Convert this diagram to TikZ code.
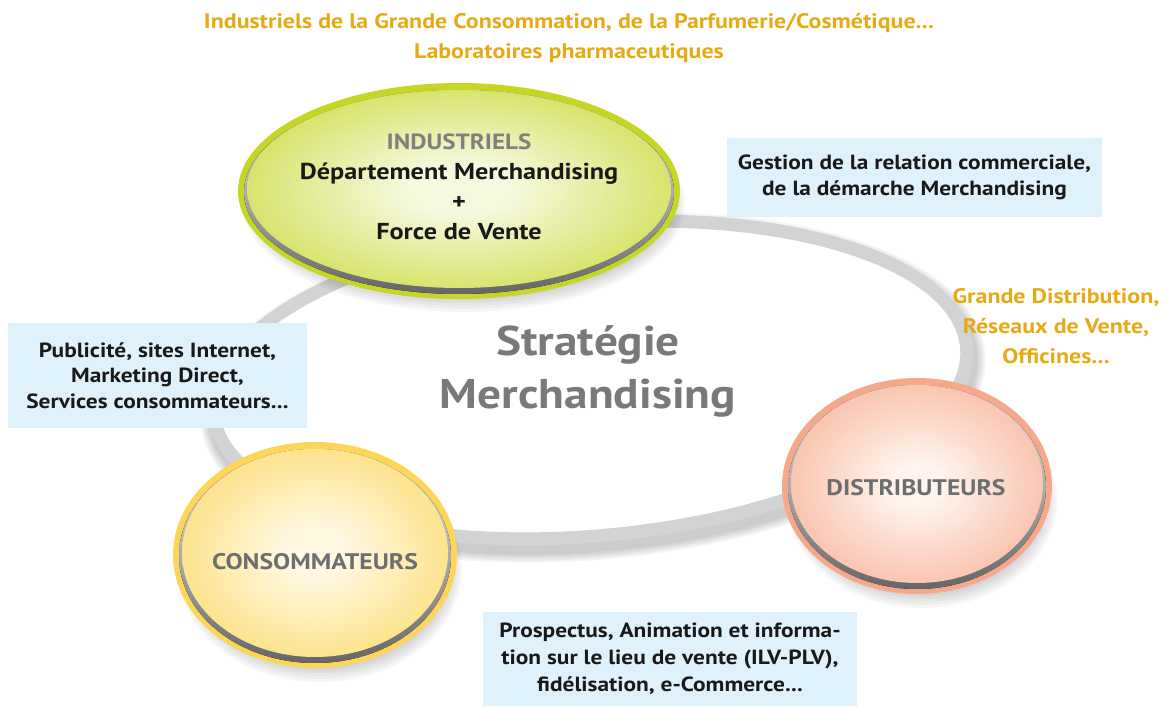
\documentclass[tikz,border=0pt]{standalone}
\usepackage{fontspec}
\setmainfont{PT Sans}[FakeStretch=1.14]
\usetikzlibrary{positioning,shapes.geometric}

\definecolor{gold}{RGB}{230,170,20}
\definecolor{skyfill}{RGB}{223,241,251}
\definecolor{ringgray}{RGB}{209,211,212}
\definecolor{txtgray}{RGB}{109,110,112}
\definecolor{lime}{RGB}{197,214,36}
\definecolor{limelight}{RGB}{246,249,222}
\definecolor{salmon}{RGB}{245,168,138}
\definecolor{salmonlight}{RGB}{255,244,238}
\definecolor{sun}{RGB}{253,214,88}
\definecolor{sunlight}{RGB}{255,249,228}

\pgfdeclareradialshading{limeshade}{\pgfpoint{0bp}{0bp}}{color(0bp)=(limelight); color(6bp)=(limelight); color(28bp)=(lime!70!limelight); color(50bp)=(lime)}
\pgfdeclareradialshading{salmonshade}{\pgfpoint{0bp}{0bp}}{color(0bp)=(salmonlight); color(5bp)=(salmonlight); color(28bp)=(salmon!70!salmonlight); color(50bp)=(salmon)}
\pgfdeclareradialshading{sunshade}{\pgfpoint{0bp}{0bp}}{color(0bp)=(sunlight); color(5bp)=(sunlight); color(28bp)=(sun!70!sunlight); color(50bp)=(sun)}

\tikzset{
  infobox/.style={fill=skyfill, align=center, font=\fontsize{20.5}{25.5}\selectfont\bfseries, text=black!90},
  goldtext/.style={align=center, text=gold, font=\fontsize{21}{30}\selectfont\bfseries},
  bubbletext/.style={align=center, text=txtgray, font=\fontsize{22.5}{29}\selectfont\bfseries},
  rim/.style={top color=gray!12, bottom color=gray!80!black},
  fuzz/.style={black, opacity=0.035}
}

\begin{document}
\begin{tikzpicture}[x=1pt, y=-1pt]
\useasboundingbox (0,0) rectangle (1171,708);

% big ring
\coordinate (ringc) at (590,380);
\begin{scope}[even odd rule, rotate around={5:(ringc)}]
  \clip (-300,-300) rectangle (1500,1000) (ringc) ellipse (372 and 150);
  \foreach \s in {4,8,...,20}
    \draw[black, opacity=0.045, line width={10+\s}] (592,388) ellipse (379 and 157);
\end{scope}
\draw[ringgray, line width=13, rotate around={5:(ringc)}] (ringc) ellipse (378 and 156);

% industriels
\foreach \s in {0,3,...,15} \fill[fuzz] (464,204) ellipse ({206+\s} and {93+\s});
\fill[lime] (459,191) ellipse (221 and 108);
\fill[rim] (459,192) ellipse (215 and 102);
\shade[shading=limeshade] (459,189) ellipse (212 and 99);

% distributeurs
\foreach \s in {0,3,...,15} \fill[fuzz] (922,500) ellipse ({120+\s} and {93+\s});
\fill[salmon] (917,486) ellipse (135 and 108);
\fill[rim] (917,487) ellipse (129 and 102);
\shade[shading=salmonshade] (917,484) ellipse (126 and 99);

% consommateurs
\foreach \s in {0,3,...,15} \fill[fuzz] (320,569) ellipse ({127+\s} and {98+\s});
\fill[sun] (315,555) ellipse (142 and 113);
\fill[rim] (315,556) ellipse (136 and 107);
\shade[shading=sunshade] (315,553) ellipse (133 and 104);

% texts
\node[goldtext] (topnote) at (569,38) {Industriels de la Grande Consommation, de la Parfumerie/Cosmétique...\\Laboratoires pharmaceutiques};
\node[goldtext] (grande) at (1056,326) {Grande Distribution,\\Réseaux de Vente,\\Officines...};

\node[align=center, font=\fontsize{23}{30}\selectfont\bfseries] (ind) at (459,187)
  {\textcolor{gray}{\fontsize{22}{30}\selectfont INDUSTRIELS}\\\textcolor{black!90}{Département Merchandising}\\\textcolor{black!90}{+}\\\textcolor{black!90}{Force de Vente}};
\node[bubbletext] (dist) at (916,488) {DISTRIBUTEURS};
\node[bubbletext] (conso) at (315,562) {CONSOMMATEURS};
\node[align=center, text=gray!95!black, font=\fontsize{41.5}{53}\selectfont\bfseries] (strat) at (588,371) {Stratégie\\Merchandising};

\node[infobox, minimum width=375, minimum height=79] (gestion) at (914.5,177.5)
  {Gestion de la relation commerciale,\\de la démarche Merchandising};
\node[infobox, minimum width=299, minimum height=105] (pub) at (157.5,375.5)
  {Publicité, sites Internet,\\Marketing Direct,\\Services consommateurs...};
\node[infobox, minimum width=374, minimum height=94, font=\fontsize{20.5}{27}\selectfont\bfseries] (prosp) at (670,659)
  {Prospectus, Animation et informa-\\tion sur le lieu de vente (ILV-PLV),\\fidélisation, e-Commerce...};

\end{tikzpicture}
\end{document}
